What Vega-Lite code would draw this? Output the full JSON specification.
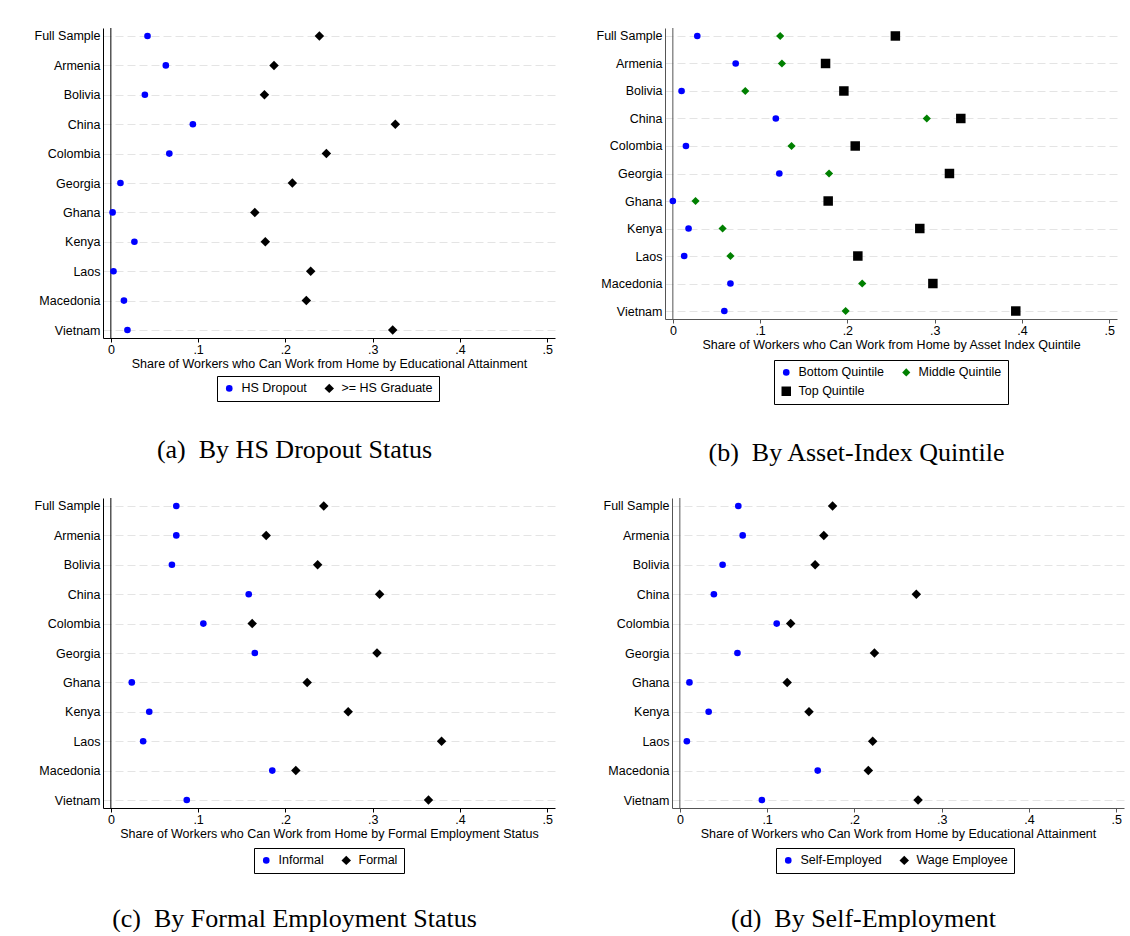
{
  "$schema": "https://vega.github.io/schema/vega-lite/v6.json",
  "background": "white",
  "padding": {"left": 34, "top": 27, "right": 4, "bottom": 0},
  "config": {
    "view": {"stroke": null},
    "font": "Liberation Sans",
    "axis": {"labelFont": "Liberation Sans", "titleFont": "Liberation Sans", "labelColor": "black", "titleColor": "black", "labelFontSize": 12.5, "titleFontSize": 12.5, "titleFontWeight": "normal"},
    "legend": {"labelFont": "Liberation Sans", "labelFontSize": 12.5, "labelColor": "black", "strokeColor": "black", "padding": 6, "symbolSize": 50, "columnPadding": 16, "rowPadding": 6, "labelOffset": 6},
    "title": {"font": "Liberation Serif", "fontSize": 26, "fontWeight": "normal", "color": "black", "anchor": "middle", "frame": "bounds"}
  },
  "datasets": {
    "d": [
      {"p": "a", "c": "Full Sample", "g": "HS Dropout", "v": 0.042},
      {"p": "a", "c": "Full Sample", "g": ">= HS Graduate", "v": 0.239},
      {"p": "a", "c": "Armenia", "g": "HS Dropout", "v": 0.063},
      {"p": "a", "c": "Armenia", "g": ">= HS Graduate", "v": 0.187},
      {"p": "a", "c": "Bolivia", "g": "HS Dropout", "v": 0.039},
      {"p": "a", "c": "Bolivia", "g": ">= HS Graduate", "v": 0.176},
      {"p": "a", "c": "China", "g": "HS Dropout", "v": 0.094},
      {"p": "a", "c": "China", "g": ">= HS Graduate", "v": 0.326},
      {"p": "a", "c": "Colombia", "g": "HS Dropout", "v": 0.067},
      {"p": "a", "c": "Colombia", "g": ">= HS Graduate", "v": 0.247},
      {"p": "a", "c": "Georgia", "g": "HS Dropout", "v": 0.011},
      {"p": "a", "c": "Georgia", "g": ">= HS Graduate", "v": 0.208},
      {"p": "a", "c": "Ghana", "g": "HS Dropout", "v": 0.002},
      {"p": "a", "c": "Ghana", "g": ">= HS Graduate", "v": 0.165},
      {"p": "a", "c": "Kenya", "g": "HS Dropout", "v": 0.027},
      {"p": "a", "c": "Kenya", "g": ">= HS Graduate", "v": 0.177},
      {"p": "a", "c": "Laos", "g": "HS Dropout", "v": 0.003},
      {"p": "a", "c": "Laos", "g": ">= HS Graduate", "v": 0.229},
      {"p": "a", "c": "Macedonia", "g": "HS Dropout", "v": 0.015},
      {"p": "a", "c": "Macedonia", "g": ">= HS Graduate", "v": 0.224},
      {"p": "a", "c": "Vietnam", "g": "HS Dropout", "v": 0.019},
      {"p": "a", "c": "Vietnam", "g": ">= HS Graduate", "v": 0.323},

      {"p": "b", "c": "Full Sample", "g": "Bottom Quintile", "v": 0.028},
      {"p": "b", "c": "Full Sample", "g": "Middle Quintile", "v": 0.123},
      {"p": "b", "c": "Full Sample", "g": "Top Quintile", "v": 0.255},
      {"p": "b", "c": "Armenia", "g": "Bottom Quintile", "v": 0.072},
      {"p": "b", "c": "Armenia", "g": "Middle Quintile", "v": 0.125},
      {"p": "b", "c": "Armenia", "g": "Top Quintile", "v": 0.175},
      {"p": "b", "c": "Bolivia", "g": "Bottom Quintile", "v": 0.010},
      {"p": "b", "c": "Bolivia", "g": "Middle Quintile", "v": 0.083},
      {"p": "b", "c": "Bolivia", "g": "Top Quintile", "v": 0.196},
      {"p": "b", "c": "China", "g": "Bottom Quintile", "v": 0.118},
      {"p": "b", "c": "China", "g": "Middle Quintile", "v": 0.291},
      {"p": "b", "c": "China", "g": "Top Quintile", "v": 0.330},
      {"p": "b", "c": "Colombia", "g": "Bottom Quintile", "v": 0.015},
      {"p": "b", "c": "Colombia", "g": "Middle Quintile", "v": 0.136},
      {"p": "b", "c": "Colombia", "g": "Top Quintile", "v": 0.209},
      {"p": "b", "c": "Georgia", "g": "Bottom Quintile", "v": 0.122},
      {"p": "b", "c": "Georgia", "g": "Middle Quintile", "v": 0.179},
      {"p": "b", "c": "Georgia", "g": "Top Quintile", "v": 0.317},
      {"p": "b", "c": "Ghana", "g": "Bottom Quintile", "v": 0.000},
      {"p": "b", "c": "Ghana", "g": "Middle Quintile", "v": 0.026},
      {"p": "b", "c": "Ghana", "g": "Top Quintile", "v": 0.178},
      {"p": "b", "c": "Kenya", "g": "Bottom Quintile", "v": 0.018},
      {"p": "b", "c": "Kenya", "g": "Middle Quintile", "v": 0.057},
      {"p": "b", "c": "Kenya", "g": "Top Quintile", "v": 0.283},
      {"p": "b", "c": "Laos", "g": "Bottom Quintile", "v": 0.013},
      {"p": "b", "c": "Laos", "g": "Middle Quintile", "v": 0.066},
      {"p": "b", "c": "Laos", "g": "Top Quintile", "v": 0.212},
      {"p": "b", "c": "Macedonia", "g": "Bottom Quintile", "v": 0.066},
      {"p": "b", "c": "Macedonia", "g": "Middle Quintile", "v": 0.217},
      {"p": "b", "c": "Macedonia", "g": "Top Quintile", "v": 0.298},
      {"p": "b", "c": "Vietnam", "g": "Bottom Quintile", "v": 0.059},
      {"p": "b", "c": "Vietnam", "g": "Middle Quintile", "v": 0.198},
      {"p": "b", "c": "Vietnam", "g": "Top Quintile", "v": 0.393},

      {"p": "c", "c": "Full Sample", "g": "Informal", "v": 0.075},
      {"p": "c", "c": "Full Sample", "g": "Formal", "v": 0.244},
      {"p": "c", "c": "Armenia", "g": "Informal", "v": 0.075},
      {"p": "c", "c": "Armenia", "g": "Formal", "v": 0.178},
      {"p": "c", "c": "Bolivia", "g": "Informal", "v": 0.070},
      {"p": "c", "c": "Bolivia", "g": "Formal", "v": 0.237},
      {"p": "c", "c": "China", "g": "Informal", "v": 0.158},
      {"p": "c", "c": "China", "g": "Formal", "v": 0.308},
      {"p": "c", "c": "Colombia", "g": "Informal", "v": 0.106},
      {"p": "c", "c": "Colombia", "g": "Formal", "v": 0.162},
      {"p": "c", "c": "Georgia", "g": "Informal", "v": 0.165},
      {"p": "c", "c": "Georgia", "g": "Formal", "v": 0.305},
      {"p": "c", "c": "Ghana", "g": "Informal", "v": 0.024},
      {"p": "c", "c": "Ghana", "g": "Formal", "v": 0.225},
      {"p": "c", "c": "Kenya", "g": "Informal", "v": 0.044},
      {"p": "c", "c": "Kenya", "g": "Formal", "v": 0.272},
      {"p": "c", "c": "Laos", "g": "Informal", "v": 0.037},
      {"p": "c", "c": "Laos", "g": "Formal", "v": 0.379},
      {"p": "c", "c": "Macedonia", "g": "Informal", "v": 0.185},
      {"p": "c", "c": "Macedonia", "g": "Formal", "v": 0.212},
      {"p": "c", "c": "Vietnam", "g": "Informal", "v": 0.087},
      {"p": "c", "c": "Vietnam", "g": "Formal", "v": 0.364},

      {"p": "d", "c": "Full Sample", "g": "Self-Employed", "v": 0.067},
      {"p": "d", "c": "Full Sample", "g": "Wage Employee", "v": 0.175},
      {"p": "d", "c": "Armenia", "g": "Self-Employed", "v": 0.072},
      {"p": "d", "c": "Armenia", "g": "Wage Employee", "v": 0.165},
      {"p": "d", "c": "Bolivia", "g": "Self-Employed", "v": 0.049},
      {"p": "d", "c": "Bolivia", "g": "Wage Employee", "v": 0.155},
      {"p": "d", "c": "China", "g": "Self-Employed", "v": 0.039},
      {"p": "d", "c": "China", "g": "Wage Employee", "v": 0.271},
      {"p": "d", "c": "Colombia", "g": "Self-Employed", "v": 0.111},
      {"p": "d", "c": "Colombia", "g": "Wage Employee", "v": 0.127},
      {"p": "d", "c": "Georgia", "g": "Self-Employed", "v": 0.066},
      {"p": "d", "c": "Georgia", "g": "Wage Employee", "v": 0.223},
      {"p": "d", "c": "Ghana", "g": "Self-Employed", "v": 0.011},
      {"p": "d", "c": "Ghana", "g": "Wage Employee", "v": 0.123},
      {"p": "d", "c": "Kenya", "g": "Self-Employed", "v": 0.033},
      {"p": "d", "c": "Kenya", "g": "Wage Employee", "v": 0.148},
      {"p": "d", "c": "Laos", "g": "Self-Employed", "v": 0.008},
      {"p": "d", "c": "Laos", "g": "Wage Employee", "v": 0.221},
      {"p": "d", "c": "Macedonia", "g": "Self-Employed", "v": 0.158},
      {"p": "d", "c": "Macedonia", "g": "Wage Employee", "v": 0.216},
      {"p": "d", "c": "Vietnam", "g": "Self-Employed", "v": 0.094},
      {"p": "d", "c": "Vietnam", "g": "Wage Employee", "v": 0.273}
    ],
    "zero": [{"z": 0}]
  },
  "resolve": {"scale": {"color": "independent", "shape": "independent", "size": "independent"}, "legend": {"color": "independent", "shape": "independent", "size": "independent"}},
  "spacing": 31,
  "vconcat": [
    {
      "spacing": 41,
      "resolve": {"scale": {"color": "independent", "shape": "independent", "size": "independent"}, "legend": {"color": "independent", "shape": "independent", "size": "independent"}},
      "hconcat": [
        {
          "width": 452, "height": 310,
          "title": {"text": "(a)\u00a0 By HS Dropout Status", "orient": "bottom", "offset": 35},
          "layer": [
            {
              "data": {"name": "zero"},
              "mark": {"type": "rule", "color": "black", "strokeWidth": 1},
              "encoding": {"x": {"field": "z", "type": "quantitative", "scale": {"domain": [-0.009, 0.509], "nice": false, "zero": false}}}
            },
            {
              "data": {"name": "d"},
              "transform": [{"filter": "datum.p == 'a'"}],
              "mark": {"type": "point", "filled": true, "opacity": 1},
              "encoding": {
                "y": {"field": "c", "type": "nominal", "sort": ["Full Sample", "Armenia", "Bolivia", "China", "Colombia", "Georgia", "Ghana", "Kenya", "Laos", "Macedonia", "Vietnam"], "scale": {"type": "point", "padding": 0.272},
                  "axis": {"title": null, "ticks": false, "labelPadding": 3, "domainColor": "black", "grid": true, "gridDash": [8, 4], "gridColor": "#e4e4e4"}},
                "x": {"field": "v", "type": "quantitative", "scale": {"domain": [-0.009, 0.509], "nice": false, "zero": false},
                  "axis": {"title": "Share of Workers who Can Work from Home by Educational Attainment", "values": [0, 0.1, 0.2, 0.3, 0.4, 0.5], "labelExpr": "datum.value == 0 ? '0' : replace(format(datum.value, '.1f'), '0.', '.')", "grid": false, "tickSize": 4, "tickColor": "black", "domainColor": "black", "labelPadding": 1, "titlePadding": 2, "labelFlush": false}},
                "color": {"field": "g", "type": "nominal", "scale": {"domain": ["HS Dropout", ">= HS Graduate"], "range": ["#0000ff", "#000000"]},
                  "legend": {"orient": "none", "legendX": 114, "legendY": 348, "direction": "horizontal", "columns": 2, "title": null}},
                "shape": {"field": "g", "type": "nominal", "scale": {"domain": ["HS Dropout", ">= HS Graduate"], "range": ["circle", "diamond"]},
                  "legend": {"orient": "none", "legendX": 114, "legendY": 348, "direction": "horizontal", "columns": 2, "title": null}},
                "size": {"field": "g", "type": "nominal", "scale": {"domain": ["HS Dropout", ">= HS Graduate"], "range": [44, 90]}, "legend": null}
              }
            }
          ]
        },
        {
          "width": 452, "height": 291,
          "title": {"text": "(b)\u00a0 By Asset-Index Quintile", "orient": "bottom", "offset": 35},
          "layer": [
            {
              "data": {"name": "zero"},
              "mark": {"type": "rule", "color": "#555555", "strokeWidth": 1},
              "encoding": {"x": {"field": "z", "type": "quantitative", "scale": {"domain": [-0.009, 0.509], "nice": false, "zero": false}}}
            },
            {
              "data": {"name": "d"},
              "transform": [{"filter": "datum.p == 'b'"}],
              "mark": {"type": "point", "filled": true, "opacity": 1},
              "encoding": {
                "y": {"field": "c", "type": "nominal", "sort": ["Full Sample", "Armenia", "Bolivia", "China", "Colombia", "Georgia", "Ghana", "Kenya", "Laos", "Macedonia", "Vietnam"], "scale": {"type": "point", "padding": 0.29},
                  "axis": {"title": null, "ticks": false, "labelPadding": 3, "domainColor": "#555555", "grid": true, "gridDash": [8, 4], "gridColor": "#e4e4e4"}},
                "x": {"field": "v", "type": "quantitative", "scale": {"domain": [-0.009, 0.509], "nice": false, "zero": false},
                  "axis": {"title": "Share of Workers who Can Work from Home by Asset Index Quintile", "values": [0, 0.1, 0.2, 0.3, 0.4, 0.5], "labelExpr": "datum.value == 0 ? '0' : replace(format(datum.value, '.1f'), '0.', '.')", "grid": false, "tickSize": 4, "tickColor": "#555555", "domainColor": "#555555", "labelPadding": 1, "titlePadding": 2, "labelFlush": false}},
                "color": {"field": "g", "type": "nominal", "scale": {"domain": ["Bottom Quintile", "Middle Quintile", "Top Quintile"], "range": ["#0000ff", "#008000", "#000000"]},
                  "legend": {"orient": "none", "legendX": 109, "legendY": 332, "direction": "horizontal", "columns": 2, "title": null}},
                "shape": {"field": "g", "type": "nominal", "scale": {"domain": ["Bottom Quintile", "Middle Quintile", "Top Quintile"], "range": ["circle", "diamond", "square"]},
                  "legend": {"orient": "none", "legendX": 109, "legendY": 332, "direction": "horizontal", "columns": 2, "title": null}},
                "size": {"field": "g", "type": "nominal", "scale": {"domain": ["Bottom Quintile", "Middle Quintile", "Top Quintile"], "range": [44, 90, 56]}, "legend": null}
              }
            }
          ]
        }
      ]
    },
    {
      "spacing": 48,
      "resolve": {"scale": {"color": "independent", "shape": "independent", "size": "independent"}, "legend": {"color": "independent", "shape": "independent", "size": "independent"}},
      "hconcat": [
        {
          "width": 452, "height": 310,
          "title": {"text": "(c)\u00a0 By Formal Employment Status", "orient": "bottom", "offset": 32},
          "layer": [
            {
              "data": {"name": "zero"},
              "mark": {"type": "rule", "color": "black", "strokeWidth": 1},
              "encoding": {"x": {"field": "z", "type": "quantitative", "scale": {"domain": [-0.009, 0.509], "nice": false, "zero": false}}}
            },
            {
              "data": {"name": "d"},
              "transform": [{"filter": "datum.p == 'c'"}],
              "mark": {"type": "point", "filled": true, "opacity": 1},
              "encoding": {
                "y": {"field": "c", "type": "nominal", "sort": ["Full Sample", "Armenia", "Bolivia", "China", "Colombia", "Georgia", "Ghana", "Kenya", "Laos", "Macedonia", "Vietnam"], "scale": {"type": "point", "padding": 0.272},
                  "axis": {"title": null, "ticks": false, "labelPadding": 3, "domainColor": "black", "grid": true, "gridDash": [8, 4], "gridColor": "#e4e4e4"}},
                "x": {"field": "v", "type": "quantitative", "scale": {"domain": [-0.009, 0.509], "nice": false, "zero": false},
                  "axis": {"title": "Share of Workers who Can Work from Home by Formal Employment Status", "values": [0, 0.1, 0.2, 0.3, 0.4, 0.5], "labelExpr": "datum.value == 0 ? '0' : replace(format(datum.value, '.1f'), '0.', '.')", "grid": false, "tickSize": 4, "tickColor": "black", "domainColor": "black", "labelPadding": 1, "titlePadding": 2, "labelFlush": false}},
                "color": {"field": "g", "type": "nominal", "scale": {"domain": ["Informal", "Formal"], "range": ["#0000ff", "#000000"]},
                  "legend": {"orient": "none", "legendX": 151, "legendY": 350, "direction": "horizontal", "columns": 2, "title": null}},
                "shape": {"field": "g", "type": "nominal", "scale": {"domain": ["Informal", "Formal"], "range": ["circle", "diamond"]},
                  "legend": {"orient": "none", "legendX": 151, "legendY": 350, "direction": "horizontal", "columns": 2, "title": null}},
                "size": {"field": "g", "type": "nominal", "scale": {"domain": ["Informal", "Formal"], "range": [44, 90]}, "legend": null}
              }
            }
          ]
        },
        {
          "width": 452, "height": 310,
          "title": {"text": "(d)\u00a0 By Self-Employment", "orient": "bottom", "offset": 32},
          "layer": [
            {
              "data": {"name": "zero"},
              "mark": {"type": "rule", "color": "#555555", "strokeWidth": 1},
              "encoding": {"x": {"field": "z", "type": "quantitative", "scale": {"domain": [-0.009, 0.509], "nice": false, "zero": false}}}
            },
            {
              "data": {"name": "d"},
              "transform": [{"filter": "datum.p == 'd'"}],
              "mark": {"type": "point", "filled": true, "opacity": 1},
              "encoding": {
                "y": {"field": "c", "type": "nominal", "sort": ["Full Sample", "Armenia", "Bolivia", "China", "Colombia", "Georgia", "Ghana", "Kenya", "Laos", "Macedonia", "Vietnam"], "scale": {"type": "point", "padding": 0.272},
                  "axis": {"title": null, "ticks": false, "labelPadding": 3, "domainColor": "#555555", "grid": true, "gridDash": [8, 4], "gridColor": "#e4e4e4"}},
                "x": {"field": "v", "type": "quantitative", "scale": {"domain": [-0.009, 0.509], "nice": false, "zero": false},
                  "axis": {"title": "Share of Workers who Can Work from Home by Educational Attainment", "values": [0, 0.1, 0.2, 0.3, 0.4, 0.5], "labelExpr": "datum.value == 0 ? '0' : replace(format(datum.value, '.1f'), '0.', '.')", "grid": false, "tickSize": 4, "tickColor": "#555555", "domainColor": "#555555", "labelPadding": 1, "titlePadding": 2, "labelFlush": false}},
                "color": {"field": "g", "type": "nominal", "scale": {"domain": ["Self-Employed", "Wage Employee"], "range": ["#0000ff", "#000000"]},
                  "legend": {"orient": "none", "legendX": 104, "legendY": 350, "direction": "horizontal", "columns": 2, "title": null}},
                "shape": {"field": "g", "type": "nominal", "scale": {"domain": ["Self-Employed", "Wage Employee"], "range": ["circle", "diamond"]},
                  "legend": {"orient": "none", "legendX": 104, "legendY": 350, "direction": "horizontal", "columns": 2, "title": null}},
                "size": {"field": "g", "type": "nominal", "scale": {"domain": ["Self-Employed", "Wage Employee"], "range": [44, 90]}, "legend": null}
              }
            }
          ]
        }
      ]
    }
  ]
}
